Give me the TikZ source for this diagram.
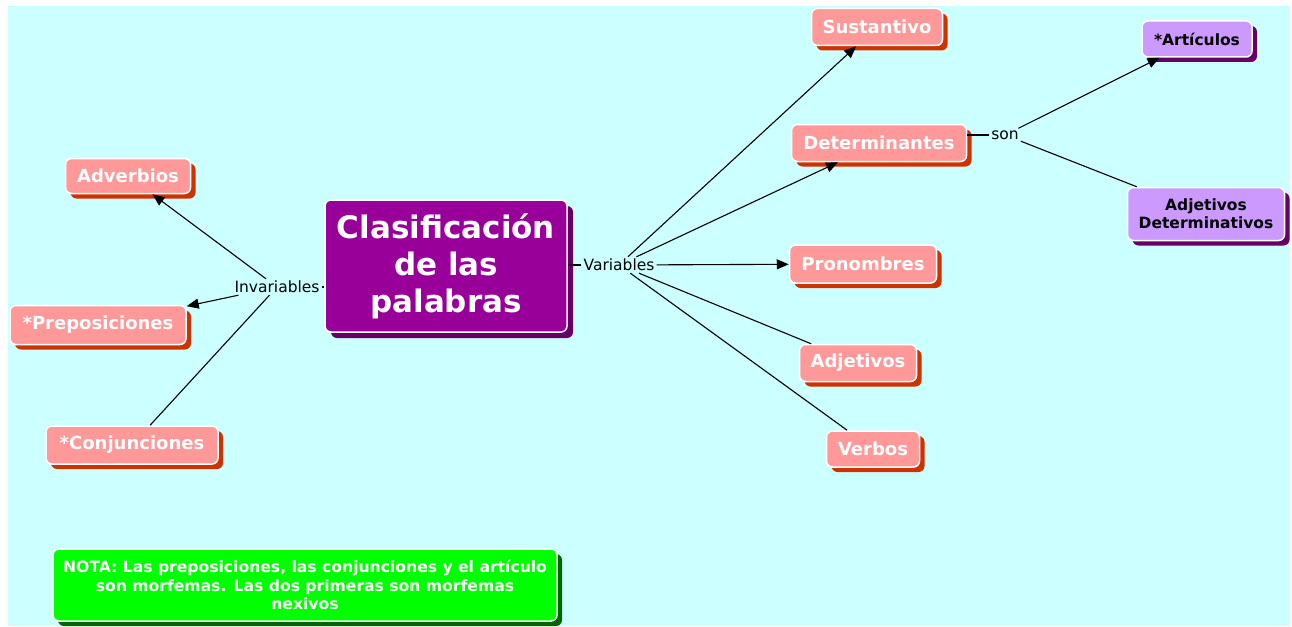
\documentclass[tikz,border=0pt]{standalone}
\usepackage{fontspec}
\setmainfont{DejaVu Sans}
\usetikzlibrary{shadows,arrows.meta}
\definecolor{bgc}{HTML}{CCFFFF}
\definecolor{pinkc}{HTML}{FF9999}
\definecolor{pinksh}{HTML}{CC3300}
\definecolor{mainc}{HTML}{990099}
\definecolor{mainsh}{HTML}{660066}
\definecolor{lilac}{HTML}{CC99FF}
\definecolor{lilacsh}{HTML}{660066}
\definecolor{greenc}{HTML}{00FF00}
\definecolor{greensh}{HTML}{006600}
\tikzset{
  box/.style={draw=white, line width=1.5pt, rounded corners=6pt, align=center, inner sep=2pt},
  pinkbox/.style={box, fill=pinkc, text=white, font=\bfseries\fontsize{18}{21}\selectfont,
    general shadow={fill=pinksh, shadow xshift=5pt, shadow yshift=-5pt}},
  lilacbox/.style={box, fill=lilac, text=black, font=\bfseries\fontsize{15.5}{18}\selectfont,
    general shadow={fill=lilacsh, shadow xshift=5pt, shadow yshift=-5pt}},
  mainbox/.style={box, fill=mainc, text=white, font=\bfseries\fontsize{31}{37}\selectfont,
    general shadow={fill=mainsh, shadow xshift=6pt, shadow yshift=-6pt}},
  notebox/.style={box, fill=greenc, text=white, font=\bfseries\fontsize{15.6}{18.5}\selectfont,
    general shadow={fill=greensh, shadow xshift=5pt, shadow yshift=-5pt}},
  lbl/.style={font=\fontsize{15.5}{18}\selectfont, inner sep=2pt, text=black},
  arr/.style={line width=1.1pt, -{Triangle[length=12pt,width=10pt]}},
  ln/.style={line width=1.1pt},
}
\begin{document}
\begin{tikzpicture}[x=1pt,y=-1pt]
\useasboundingbox (0,0) rectangle (1292,626);
\fill[white] (0,0) rectangle (1292,626);
\fill[bgc] (8,6) rectangle (1290,626);

\node[mainbox, minimum width=242pt, minimum height=132pt] (main) at (446,266) {Clasificación\\de las\\palabras};

\node[lbl] (var) at (619,265) {Variables};
\node[lbl] (inv) at (277,287) {Invariables};
\node[lbl] (son) at (1005,135) {son};

\node[pinkbox, minimum width=125pt, minimum height=35pt] (adv) at (128,176) {Adverbios};
\node[pinkbox, minimum width=176pt, minimum height=39pt] (prep) at (98,325) {*Preposiciones};
\node[pinkbox, minimum width=172pt, minimum height=38pt] (conj) at (132,445) {*Conjunciones};

\node[pinkbox, minimum width=131pt, minimum height=37pt] (sus) at (877,27) {Sustantivo};
\node[pinkbox, minimum width=175pt, minimum height=37pt] (det) at (879,143) {Determinantes};
\node[pinkbox, minimum width=147pt, minimum height=38pt] (pro) at (863,264) {Pronombres};
\node[pinkbox, minimum width=117pt, minimum height=37pt] (adj) at (858,363) {Adjetivos};
\node[pinkbox, minimum width=93pt, minimum height=36pt] (ver) at (873,449) {Verbos};

\node[lilacbox, minimum width=110pt, minimum height=36pt] (art) at (1197,39) {*Artículos};
\node[lilacbox, minimum width=157pt, minimum height=53pt] (adet) at (1206,214) {Adjetivos\\Determinativos};

\node[notebox, minimum width=504pt, minimum height=72pt] (nota) at (305,585) {NOTA: Las preposiciones, las conjunciones y el artículo\\son morfemas. Las dos primeras son morfemas\\nexivos};

\draw[ln] (var.west) -- (var.west -| main.east);
\draw[ln] (inv.east) -- (inv.east -| main.west);
\draw[ln] (son.west) -- (son.west -| det.east);

\draw[arr] (inv) -- (adv);
\draw[arr] (inv) -- (prep);
\draw[ln] (inv) -- (conj);

\draw[arr] (var) -- (sus);
\draw[arr] (var) -- (det);
\draw[arr] (var) -- (pro);
\draw[ln] (var) -- (adj);
\draw[ln] (var) -- (ver);

\draw[arr] (son) -- (art);
\draw[ln] (son) -- (adet);
\end{tikzpicture}
\end{document}
